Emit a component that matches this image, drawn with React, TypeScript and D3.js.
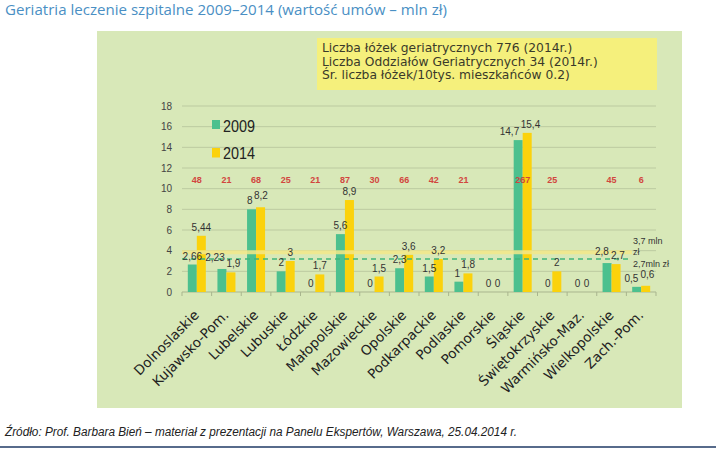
import React from 'react';
import * as d3 from 'd3';

const categories = ['Dolnoslaskie', 'Kujawsko-Pom.', 'Lubelskie', 'Lubuskie', 'Łódzkie', 'Małopolskie', 'Mazowieckie', 'Opolskie', 'Podkarpackie', 'Podlaskie', 'Pomorskie', 'Śląskie', 'Świętokrzyskie', 'Warmińsko-Maz.', 'Wielkopolskie', 'Zach.-Pom.'];
const values2009 = [2.66, 2.23, 8, 2, 0, 5.6, 0, 2.3, 1.5, 1, 0, 14.7, 0, 0, 2.8, 0.5];
const values2014 = [5.44, 1.9, 8.2, 3, 1.7, 8.9, 1.5, 3.6, 3.2, 1.8, 0, 15.4, 2, 0, 2.7, 0.6];
const beds = [48, 21, 68, 25, 21, 87, 30, 66, 42, 21, null, 267, 25, null, 45, 6];
const seriesNames = ['2009', '2014'];
const yTicks = [0, 2, 4, 6, 8, 10, 12, 14, 16, 18];
const bedsRowValue = 10.9;
const avgLine2014 = 3.85;
const avgLine2009 = 3.2;
const avgLabel2014 = ['3,7 mln', 'zł'];
const avgLabel2009 = '2,7mln zł';
const infoLines = [
  'Liczba łóżek geriatrycznych 776 (2014r.)',
  'Liczba Oddziałów Geriatrycznych 34 (2014r.)',
  'Śr. liczba łóżek/10tys. mieszkańców 0.2)',
];
const title = 'Geriatria leczenie szpitalne 2009–2014 (wartość umów – mln  zł)';
const source = 'Źródło: Prof. Barbara Bień – materiał z prezentacji na Panelu Ekspertów, Warszawa, 25.04.2014 r.';

const GREEN = '#4cc08e';
const YELLOW = '#fbd20c';
const SANS = "'Liberation Sans', Arial, sans-serif";

const fmt = (v: number) => String(v).replace('.', ',');
const textW = (s: string) => s.length * 5.0;

export default function App() {
  const x = d3.scaleBand<string>().domain(categories).range([182, 656]).padding(0);
  const bw = x.bandwidth();
  const x1 = d3.scaleBand<string>().domain(seriesNames).range([bw / 2 - 9, bw / 2 + 9]).padding(0);
  const y = d3.scaleLinear().domain([0, 18]).range([292, 106]);
  const series = [values2009, values2014];
  const colors = [GREEN, YELLOW];

  // simple collision avoidance between the two value labels of one category
  const labelPos = categories.map((c, i) => {
    const base = x(c) as number;
    const pts = series.map((vals, s) => ({
      x: base + (x1(seriesNames[s]) as number) + x1.bandwidth() / 2,
      y: y(vals[i]) - 5,
      t: fmt(vals[i]),
    }));
    const [a, b] = pts;
    const overlapX = (a.x + textW(a.t) / 2) - (b.x - textW(b.t) / 2);
    if (overlapX > 0 && Math.abs(a.y - b.y) < 9) {
      a.x -= overlapX * 0.7 + 1;
      b.x += overlapX * 0.3;
      if (Math.abs(a.y - b.y) < 4) {
        if (a.y <= b.y) a.y -= 3; else b.y -= 3;
      }
    }
    return pts;
  });

  return (
    <svg width={716} height={449} style={{ position: 'absolute', left: 0, top: 0, background: '#fff' }}>
      <text x={5} y={15} fontFamily="'Open Sans', sans-serif" fontSize={14.5} fill="#4a8fc4" textLength={442} lengthAdjust="spacingAndGlyphs">{title}</text>
      <rect x={97} y={31} width={585} height={377} fill="#d8e8b8" />
      <rect x={317} y={38} width={340} height={52} fill="#f5f07c" />
      {infoLines.map((t, i) => (
        <text key={i} x={322} y={52 + i * 13.5} fontFamily="'DejaVu Sans', sans-serif" fontSize={12.3} fill="#3a3a2a">{t}</text>
      ))}
      {yTicks.map(t => (
        <g key={t}>
          <line x1={182} x2={656} y1={y(t)} y2={y(t)} stroke={t === 0 ? '#a9b58e' : '#bccaa0'} strokeWidth={1} />
          <text x={172} y={y(t)} dy="0.35em" textAnchor="end" fontFamily={SANS} fontSize={10} fill="#444">{t}</text>
        </g>
      ))}
      {categories.map((c, i) => (
        <line key={'tk' + i} x1={(x(c) as number)} x2={(x(c) as number)} y1={292} y2={296} stroke="#a9b58e" />
      ))}
      <line x1={656} x2={656} y1={292} y2={296} stroke="#a9b58e" />
      {series.map((vals, s) => vals.map((v, i) => {
        const bx = (x(categories[i]) as number) + (x1(seriesNames[s]) as number);
        return <rect key={s + '-' + i} x={bx} y={y(v)} width={x1.bandwidth()} height={y(0) - y(v)} fill={colors[s]} />;
      }))}
      <line x1={182} x2={632} y1={y(avgLine2014)} y2={y(avgLine2014)} stroke="#f3e88a" strokeWidth={4} opacity={0.85} />
      <line x1={182} x2={632} y1={y(avgLine2009)} y2={y(avgLine2009)} stroke="#3fb57a" strokeWidth={1.5} strokeDasharray="5,4" />
      {labelPos.map((pts, i) => pts.map((p, s) => (
        <text key={'l' + s + '-' + i} x={p.x} y={p.y} textAnchor="middle" fontFamily={SANS} fontSize={10} fill="#333">{p.t}</text>
      )))}
      {beds.map((b, i) => b == null ? null : (
        <text key={'b' + i} x={(x(categories[i]) as number) + bw / 2} y={y(bedsRowValue)} dy="0.35em" textAnchor="middle" fontFamily={SANS} fontWeight="bold" fontSize={9} fill="#d2453e">{b}</text>
      ))}
      <text x={633} y={244} fontFamily={SANS} fontSize={9} fill="#333">{avgLabel2014[0]}</text>
      <text x={633} y={255} fontFamily={SANS} fontSize={9} fill="#333">{avgLabel2014[1]}</text>
      <text x={633} y={267} fontFamily={SANS} fontSize={9} fill="#333">{avgLabel2009}</text>
      <rect x={212} y={120} width={8} height={9} fill={GREEN} />
      <text x={223} y={131.5} fontFamily={SANS} fontSize={17} fill="#222" textLength={32} lengthAdjust="spacingAndGlyphs">{seriesNames[0]}</text>
      <rect x={212} y={148} width={8} height={9.5} fill={YELLOW} />
      <text x={223} y={159} fontFamily={SANS} fontSize={17} fill="#222" textLength={32} lengthAdjust="spacingAndGlyphs">{seriesNames[1]}</text>
      {categories.map((c, i) => (
        <text key={'c' + i} transform={`translate(${(x(c) as number) + bw / 2 + 3},316) rotate(-45)`} textAnchor="end" fontFamily="'DejaVu Sans', sans-serif" fontSize={13.5} fill="#222">{c}</text>
      ))}
      <text x={5} y={436} fontFamily={SANS} fontStyle="italic" fontSize={12} fill="#222" textLength={512} lengthAdjust="spacingAndGlyphs">{source}</text>
      <line x1={0} x2={716} y1={447} y2={447} stroke="#1f3a64" strokeWidth={1.5} />
    </svg>
  );
}
